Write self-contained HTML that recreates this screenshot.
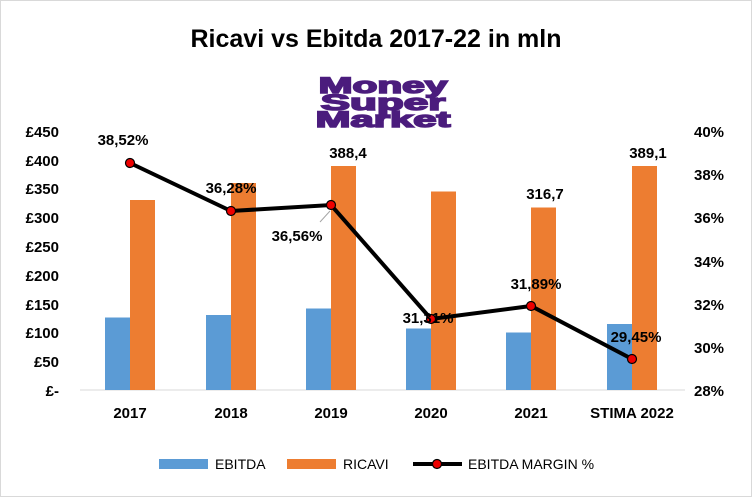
<!DOCTYPE html>
<html><head><style>body{margin:0;background:#fff}svg{display:block}</style></head><body>
<svg width="752" height="497" xmlns="http://www.w3.org/2000/svg" font-family="Liberation Sans, sans-serif">
<rect x="0.5" y="0.5" width="751" height="496" fill="#fff" stroke="#d9d9d9"/>
<text x="376" y="47" text-anchor="middle" font-size="25" font-weight="bold" fill="#000">Ricavi vs Ebitda 2017-22 in mln</text>
<g fill="#4b1c7d" stroke="#4b1c7d" stroke-width="1.5" font-weight="900" font-size="22" text-anchor="middle">
<text transform="translate(383,93) scale(1.85,1)" x="0" y="0">Money</text>
<text transform="translate(383,110) scale(2.0,1)" x="0" y="0">Super</text>
<text transform="translate(383,127) scale(1.9,1)" x="0" y="0">Market</text>
</g>
<g font-size="15" font-weight="bold" fill="#000">
<g text-anchor="end">
<text x="59" y="137">£450</text><text x="59" y="166">£400</text><text x="59" y="194">£350</text>
<text x="59" y="223">£300</text><text x="59" y="252">£250</text><text x="59" y="281">£200</text>
<text x="59" y="310">£150</text><text x="59" y="338">£100</text><text x="59" y="367">£50</text>
<text x="59" y="396">£-</text>
</g>
<g text-anchor="start">
<text x="694" y="137">40%</text><text x="694" y="180">38%</text><text x="694" y="223">36%</text>
<text x="694" y="267">34%</text><text x="694" y="310">32%</text><text x="694" y="353">30%</text>
<text x="694" y="396">28%</text>
</g>
<g text-anchor="middle">
<text x="130" y="418">2017</text><text x="231" y="418">2018</text><text x="331" y="418">2019</text>
<text x="431" y="418">2020</text><text x="531" y="418">2021</text><text x="632" y="418">STIMA 2022</text>
</g>
</g>
<line x1="80" y1="390" x2="685" y2="390" stroke="#d9d9d9"/>
<g fill="#5b9bd5">
<rect x="105" y="317.5" width="25" height="72.5"/>
<rect x="206" y="315" width="25" height="75"/>
<rect x="306" y="308.5" width="25" height="81.5"/>
<rect x="406" y="328.5" width="25" height="61.5"/>
<rect x="506" y="332.5" width="25" height="57.5"/>
<rect x="607" y="324" width="25" height="66"/>
</g>
<g fill="#ed7d31">
<rect x="130" y="200" width="25" height="190"/>
<rect x="231" y="183" width="25" height="207"/>
<rect x="331" y="166" width="25" height="224"/>
<rect x="431" y="191.5" width="25" height="198.5"/>
<rect x="531" y="207.5" width="25" height="182.5"/>
<rect x="632" y="166" width="25" height="224"/>
</g>
<line x1="320" y1="222" x2="330" y2="211" stroke="#a6a6a6"/>
<polyline points="130,163 231,211 331,205 431,319 531,306 632,359" fill="none" stroke="#000" stroke-width="4"/>
<g fill="#e00" stroke="#000" stroke-width="1.2">
<circle cx="130" cy="163" r="4.5"/><circle cx="231" cy="211" r="4.5"/><circle cx="331" cy="205" r="4.5"/>
<circle cx="431" cy="319" r="4.5"/><circle cx="531" cy="306" r="4.5"/><circle cx="632" cy="359" r="4.5"/>
</g>
<g font-size="15" font-weight="bold" fill="#000" text-anchor="middle">
<text x="123" y="145">38,52%</text>
<text x="231" y="193">36,28%</text>
<text x="297" y="241">36,56%</text>
<text x="428" y="323">31,31%</text>
<text x="536" y="289">31,89%</text>
<text x="636" y="342">29,45%</text>
<text x="348" y="158">388,4</text>
<text x="545" y="199">316,7</text>
<text x="648" y="158">389,1</text>
</g>
<g font-size="14" fill="#000">
<rect x="159" y="459" width="49" height="10" fill="#5b9bd5"/><text x="215" y="469">EBITDA</text>
<rect x="287" y="459" width="49" height="10" fill="#ed7d31"/><text x="343" y="469">RICAVI</text>
<line x1="413" y1="464" x2="462" y2="464" stroke="#000" stroke-width="4"/>
<circle cx="437" cy="464" r="4.5" fill="#e00" stroke="#000" stroke-width="1.2"/>
<text x="468" y="469">EBITDA MARGIN %</text>
</g>
</svg>
</body></html>
